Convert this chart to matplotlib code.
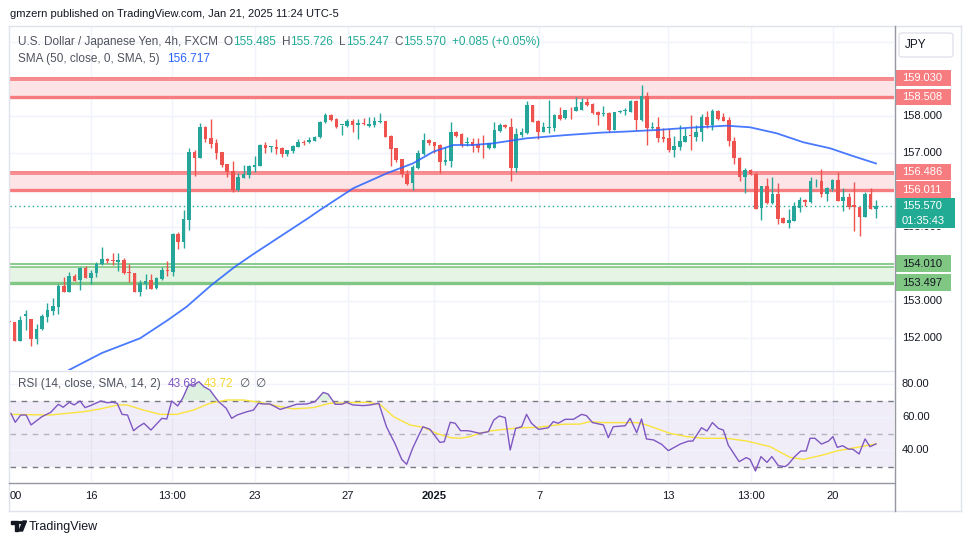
import matplotlib
matplotlib.use("Agg")
import matplotlib.pyplot as plt
from matplotlib.patches import Rectangle, Polygon, Circle, FancyBboxPatch
from matplotlib.lines import Line2D
from matplotlib.transforms import Bbox, blended_transform_factory
import numpy as np

plt.rcParams['font.family'] = ['Liberation Sans', 'DejaVu Sans']

# USDJPY 4h candles
opens = [152.47, 152.44, 151.92, 152.60, 152.51, 151.97, 152.24, 152.56, 152.74, 152.85,
         153.41, 153.25, 153.68, 153.57, 153.90, 153.63, 153.77, 153.99, 154.14, 154.09,
         154.06, 154.11, 153.78, 153.75, 153.23, 153.46, 153.57, 153.34, 153.60, 153.84,
         153.79, 154.81, 154.60, 155.19, 157.02, 156.87, 157.71, 157.40, 157.26, 157.02,
         156.70, 156.51, 156.00, 156.33, 156.40, 156.63, 156.66, 157.22, 157.16, 157.16,
         157.14, 156.97, 157.06, 157.17, 157.31, 157.29, 157.33, 157.42, 157.83, 158.03,
         157.92, 157.75, 157.74, 157.86, 157.76, 157.82, 157.74, 157.76, 157.85, 157.86,
         157.46, 157.13, 156.84, 156.44, 156.18, 156.59, 156.97, 157.35, 157.29, 157.22,
         156.75, 156.78, 157.56, 157.51, 157.28, 157.29, 157.23, 157.17, 157.14, 157.14,
         157.60, 157.77, 157.71, 156.59, 157.49, 157.53, 158.30, 157.87, 157.58, 157.67,
         157.67, 158.03, 157.94, 158.17, 158.14, 158.16, 158.37, 158.32, 158.12, 158.06,
         158.09, 157.62, 158.10, 158.13, 158.12, 158.41, 157.89, 158.54, 157.68, 157.71,
         157.44, 157.40, 157.08, 157.17, 157.31, 157.47, 157.42, 157.56, 157.96, 157.76,
         158.14, 157.96, 157.89, 157.32, 156.87, 156.36, 156.54, 156.42, 155.52, 156.11,
         155.64, 155.89, 155.25, 155.10, 155.16, 155.52, 155.73, 155.67, 156.23, 156.24,
         155.89, 156.03, 156.27, 155.69, 155.80, 155.60, 155.53, 155.28, 155.89, 155.485]
highs = [152.50, 152.44, 152.60, 152.76, 152.51, 152.37, 152.64, 152.94, 153.07, 153.46,
         153.66, 153.78, 153.74, 153.93, 153.95, 153.84, 154.06, 154.45, 154.17, 154.31,
         154.29, 154.17, 154.00, 153.76, 153.57, 153.73, 153.73, 153.66, 153.93, 154.08,
         154.85, 154.87, 155.46, 157.13, 157.08, 157.80, 157.72, 157.92, 157.38, 157.03,
         156.71, 156.78, 156.45, 156.68, 156.68, 156.93, 157.24, 157.29, 157.19, 157.37,
         157.17, 157.09, 157.22, 157.38, 157.35, 157.42, 157.46, 157.86, 158.07, 158.06,
         157.95, 157.77, 157.92, 157.91, 157.92, 157.94, 157.96, 157.96, 158.07, 157.87,
         157.49, 157.14, 156.85, 156.54, 156.68, 157.08, 157.55, 157.38, 157.30, 157.23,
         157.17, 157.83, 157.59, 157.53, 157.42, 157.41, 157.40, 157.49, 157.28, 157.85,
         157.80, 157.78, 157.95, 157.67, 157.67, 158.41, 158.31, 157.88, 157.85, 158.43,
         158.05, 158.23, 158.17, 158.25, 158.52, 158.48, 158.48, 158.34, 158.13, 158.28,
         158.10, 158.12, 158.16, 158.21, 158.43, 158.42, 158.84, 158.66, 157.85, 157.98,
         157.67, 157.65, 157.47, 157.77, 157.67, 158.03, 157.76, 158.05, 158.14, 158.19,
         158.16, 158.07, 157.98, 157.44, 156.88, 156.59, 156.57, 156.50, 156.11, 156.33,
         156.34, 156.18, 155.26, 155.49, 155.68, 155.82, 155.77, 156.36, 156.30, 156.57,
         156.09, 156.29, 156.48, 156.05, 155.91, 156.21, 155.54, 155.94, 156.05, 155.726]
lows = [152.40, 151.92, 151.92, 152.22, 151.79, 151.84, 152.22, 152.44, 152.62, 152.65,
        153.24, 153.24, 153.54, 153.31, 153.61, 153.46, 153.66, 153.97, 154.02, 153.97,
        153.81, 153.72, 153.52, 153.23, 153.14, 153.32, 153.32, 153.32, 153.57, 153.68,
        153.68, 154.41, 154.42, 154.92, 156.39, 156.86, 157.31, 157.14, 156.84, 156.63,
        156.36, 155.95, 155.97, 156.32, 156.33, 156.48, 156.65, 156.99, 157.04, 156.97,
        156.90, 156.93, 157.01, 157.16, 157.22, 157.26, 157.32, 157.41, 157.80, 157.87,
        157.67, 157.49, 157.71, 157.58, 157.37, 157.76, 157.69, 157.69, 157.82, 157.44,
        156.65, 156.75, 156.36, 156.14, 156.00, 156.58, 156.95, 157.22, 156.99, 156.45,
        156.68, 156.63, 157.44, 157.17, 157.20, 157.04, 157.04, 156.87, 157.11, 157.13,
        157.58, 157.68, 156.23, 156.48, 157.44, 157.52, 157.83, 157.38, 157.57, 157.53,
        157.60, 157.89, 157.93, 157.91, 158.13, 158.15, 158.28, 158.06, 157.77, 158.01,
        157.58, 157.61, 158.07, 158.03, 158.11, 157.62, 157.86, 157.22, 157.65, 157.29,
        157.29, 157.04, 156.90, 157.08, 157.30, 157.08, 157.33, 157.33, 157.67, 157.62,
        157.89, 157.86, 157.20, 156.70, 156.25, 155.93, 156.41, 155.49, 155.19, 155.63,
        155.61, 155.07, 155.10, 154.98, 155.15, 155.41, 155.57, 155.66, 156.09, 155.82,
        155.70, 155.97, 155.69, 155.42, 155.49, 154.89, 154.77, 155.27, 155.48, 155.247]
closes = [152.42, 151.92, 152.49, 152.65, 151.97, 152.24, 152.59, 152.76, 152.87, 153.41,
          153.25, 153.68, 153.55, 153.90, 153.63, 153.77, 153.99, 154.14, 154.07, 154.07,
          154.11, 153.75, 153.76, 153.23, 153.48, 153.55, 153.32, 153.63, 153.84, 153.82,
          154.81, 154.60, 155.22, 157.02, 156.87, 157.70, 157.38, 157.24, 156.99, 156.68,
          156.48, 156.00, 156.34, 156.42, 156.65, 156.68, 157.22, 157.14, 157.17, 157.11,
          156.97, 157.08, 157.19, 157.31, 157.26, 157.35, 157.44, 157.85, 158.03, 157.89,
          157.71, 157.76, 157.86, 157.77, 157.80, 157.78, 157.78, 157.87, 157.86, 157.44,
          157.11, 156.81, 156.42, 156.16, 156.63, 156.99, 157.35, 157.26, 157.20, 156.77,
          156.81, 157.56, 157.47, 157.22, 157.29, 157.20, 157.14, 157.15, 157.26, 157.62,
          157.77, 157.71, 156.59, 157.51, 157.58, 158.30, 157.83, 157.58, 157.69, 157.69,
          158.03, 157.91, 158.16, 158.15, 158.23, 158.37, 158.30, 158.07, 158.03, 158.08,
          157.62, 158.12, 158.12, 158.16, 158.41, 157.89, 158.54, 157.67, 157.71, 157.41,
          157.38, 157.08, 157.19, 157.32, 157.47, 157.45, 157.58, 157.96, 157.76, 158.14,
          157.92, 157.87, 157.32, 156.86, 156.36, 156.54, 156.42, 155.50, 156.11, 155.64,
          155.89, 155.22, 155.10, 155.19, 155.58, 155.73, 155.67, 156.24, 156.24, 155.89,
          156.05, 156.27, 155.69, 155.82, 155.55, 155.53, 155.28, 155.89, 155.48, 155.570]

# SMA(50) smoothed line: vertices (candle index, price)
sma_idx = [10.96, 17.0, 24.0, 29.1, 32.55, 37.1, 41.4, 45.0, 54.8, 57.0, 63.1, 69.25, 74.1,
           77.8, 81.5, 85.1, 88.8, 94.9, 102.3, 108.4, 112.65, 118.8, 124.9, 131.6, 135.9,
           140.8, 145.7, 150.6, 154.2, 159.0]
sma_val = [151.135, 151.595, 151.992, 152.486, 152.846, 153.432, 153.927, 154.289, 155.235,
           155.459, 156.046, 156.451, 156.722, 157.035, 157.216, 157.216, 157.262, 157.397,
           157.486, 157.549, 157.576, 157.622, 157.684, 157.738, 157.695, 157.532, 157.289,
           157.127, 156.946, 156.717]

# RSI(14) line vertices
rsi_idx = [0.3, 1.1, 2.1, 3.1, 4.0, 6.0, 7.6, 9.0, 9.9, 11.0, 11.9, 13.0, 13.9, 14.9, 16.8,
           17.9, 19.0, 19.8, 20.7, 21.7, 22.8, 23.7, 24.7, 26.0, 28.0, 28.9, 29.8, 30.9, 31.8,
           32.9, 33.8, 34.8, 35.7, 36.8, 38.4, 39.8, 40.8, 41.8, 43.6, 44.8, 45.7, 46.6, 47.8,
           49.7, 51.4, 52.7, 54.6, 56.1, 57.6, 58.5, 59.8, 61.0, 61.9, 63.0, 65.0, 66.2, 67.8,
           69.2, 70.8, 72.0, 72.9, 74.0, 75.0, 75.9, 77.2, 79.0, 79.8, 80.9, 81.8, 82.8, 83.9,
           84.5, 86.3, 87.9, 88.9, 89.9, 91.0, 91.9, 92.9, 94.0, 94.9, 95.8, 97.1, 98.9, 99.8,
           100.7, 102.0, 103.5, 105.0, 105.9, 107.0, 109.0, 109.9, 110.8, 113.0, 113.9, 115.1,
           116.0, 116.9, 118.2, 119.7, 120.9, 123.1, 124.6, 125.4, 127.0, 128.0, 129.0, 130.1,
           131.0, 131.9, 132.8, 133.9, 135.2, 135.9, 136.9, 137.9, 139.0, 139.9, 141.1, 142.3,
           142.9, 144.1, 145.2, 146.2, 146.9, 147.8, 149.0, 150.3, 151.1, 151.9, 152.9, 153.9,
           154.8, 155.9, 157.0, 157.9, 159.0]
rsi_val = [62.2, 56.8, 61.2, 61.2, 55.2, 60.2, 62.8, 67.7, 65.9, 68.9, 67.3, 69.7, 65.7, 66.9,
           69.7, 68.7, 68.9, 68.3, 61.6, 61.2, 51.7, 54.1, 56.2, 52.1, 59.2, 58.8, 69.7, 66.7,
           71.3, 79.4, 79.4, 81.4, 78.4, 76.4, 69.3, 65.3, 59.2, 61.2, 63.2, 64.2, 68.3, 67.9,
           67.9, 64.6, 66.3, 67.7, 67.9, 69.3, 74.9, 73.9, 67.7, 67.7, 68.9, 67.3, 66.9, 67.3,
           68.3, 54.1, 43.6, 34.3, 31.3, 41.0, 48.1, 54.1, 52.5, 44.6, 45.0, 56.8, 56.2, 51.7,
           51.7, 51.5, 50.1, 51.1, 58.2, 60.6, 59.6, 40.0, 53.1, 54.1, 61.6, 56.2, 52.5, 53.5,
           57.2, 56.2, 58.6, 58.6, 61.6, 60.8, 56.6, 55.2, 47.5, 54.1, 54.7, 59.2, 50.5, 58.8,
           46.7, 46.1, 43.4, 39.6, 43.6, 45.4, 45.4, 53.5, 51.5, 56.6, 53.1, 52.1, 43.0, 38.4,
           32.9, 35.4, 34.3, 27.3, 36.0, 32.5, 36.0, 30.5, 29.9, 31.3, 36.0, 39.4, 39.4, 47.1,
           47.1, 43.6, 45.4, 48.1, 41.6, 42.6, 40.6, 40.4, 37.6, 46.7, 42.0, 43.68]

# RSI moving average (SMA 14) vertices
rma_idx = [0.3, 7.5, 13.6, 16.7, 20.0, 21.6, 24.6, 27.7, 30.7, 33.8, 36.8, 39.9, 42.9, 46.0,
           49.1, 52.1, 55.8, 58.8, 62.5, 65.6, 68.0, 70.5, 73.5, 76.0, 78.4, 80.9, 82.7, 84.5,
           86.2, 88.2, 90.6, 94.0, 96.8, 101.6, 104.7, 106.5, 109.0, 115.1, 116.9, 121.2,
           124.3, 127.3, 131.6, 135.3, 139.6, 143.2, 145.7, 149.3, 151.8, 155.5, 159.0]
rma_val = [61.6, 61.2, 63.2, 64.9, 67.3, 67.3, 64.2, 61.6, 61.6, 64.2, 68.3, 70.3, 70.3, 68.9,
           66.7, 64.9, 65.7, 68.3, 68.7, 68.9, 67.7, 60.2, 55.2, 53.7, 50.1, 47.5, 47.1, 48.1,
           50.1, 51.5, 52.5, 53.5, 53.7, 55.6, 55.7, 57.2, 56.6, 56.6, 55.2, 50.1, 48.1, 47.1,
           47.1, 45.4, 42.0, 35.6, 34.3, 37.0, 39.4, 41.6, 43.72]

# support / resistance zones
red_zones = [(158.508, 159.030), (156.011, 156.486)]
green_zones = [(153.497, 154.010)]

price_ticks = [152, 153, 154, 155, 156, 157, 158]
rsi_ticks = [40, 60, 80]
time_ticks = [15.05, 29.9, 45.0, 62.1, 78.0, 97.2, 120.9, 136.0, 151.1]
time_labels = ['16', '13:00', '23', '27', '2025', '7', '13', '13:00', '20']

UP, DN = '#26A69A', '#EF5350'
RED_LN, RED_FILL = '#F77C80', '#FDE4E6'
GRN_LN, GRN_FILL = '#81C784', '#E6F4E5'
GRID = '#F0F3FA'
TXT = '#131722'
GREY = '#50535E'

W, H = 970, 545
fig = plt.figure(figsize=(W / 100, H / 100), dpi=100)


def fx(px):
    return px / W


def fy(py):
    return 1 - py / H


L, R = 10, 894
TOP, MID, RTOP, BOT = 26, 370, 371, 482
step, x_first = 5.451, 9.25

ax = fig.add_axes([fx(L), fy(MID), (R - L) / W, (MID - TOP) / H])
rx = fig.add_axes([fx(L), fy(BOT), (R - L) / W, (BOT - RTOP) / H])
xl = ((L - x_first) / step, (R - x_first) / step)
for a in (ax, rx):
    a.set_xlim(*xl)
    a.set_xticks([])
    a.set_yticks([])
    for s in a.spines.values():
        s.set_visible(False)
    for t in time_ticks:
        a.axvline(t, color=GRID, lw=1, zorder=0)

ax.set_ylim(158 - (MID - 116) / 37, 158 + (116 - TOP) / 37)
rx.set_ylim(80 - (BOT - 384) / 1.65, 80 + (384 - RTOP) / 1.65)

for p in price_ticks + [159, 160]:
    ax.axhline(p, color=GRID, lw=1, zorder=0)

# zones
for lo, hi in red_zones:
    ax.axhspan(lo, hi - 0.06, color=RED_FILL, zorder=0.5, lw=0)
    ax.axhline(hi, color=RED_LN, lw=1.3, zorder=1)
    ax.axhline(hi - 0.055, color=RED_LN, lw=1.2, zorder=1)
    ax.axhline(lo, color=RED_LN, lw=2.4, zorder=1)
for lo, hi in green_zones:
    ax.axhspan(lo, hi - 0.08, color=GRN_FILL, zorder=0.5, lw=0)
    ax.axhline(hi, color=GRN_LN, lw=1.3, zorder=1)
    ax.axhline(hi - 0.08, color=GRN_LN, lw=1.2, zorder=1)
    ax.axhline(lo, color=GRN_LN, lw=2.4, zorder=1)

# candles
o, h, l, c = map(np.array, (opens, highs, lows, closes))
idx = np.arange(len(o))
col = np.where(c >= o, UP, DN)
ax.vlines(idx, l, h, colors=col, lw=1, zorder=3)
ax.bar(idx, np.maximum(np.abs(c - o), 0.025), bottom=np.minimum(o, c), width=0.66,
       color=col, lw=0, zorder=4)

ax.plot(sma_idx, sma_val, color='#2962FF', lw=1.3, zorder=5, alpha=0.85)
ax.axhline(closes[-1], color='#22AB94', lw=1, ls=(0, (1, 2.2)), zorder=2)

# RSI pane
rx.axhspan(30, 70, color='#7E57C2', alpha=0.1, lw=0, zorder=0.5)
for v in rsi_ticks:
    rx.axhline(v, color=GRID, lw=1, zorder=0.6)
rx.axhline(70, color='#787B86', lw=1, ls=(0, (4, 4)), zorder=1)
rx.axhline(30, color='#787B86', lw=1, ls=(0, (4, 4)), zorder=1)
rx.axhline(50, color='#787B86', lw=1, ls=(0, (4, 4)), alpha=0.5, zorder=1)
ri = np.array(rsi_idx)
rv = np.array(rsi_val)
rx.fill_between(ri, rv, 70, where=rv > 70, interpolate=True, color='#4CAF50', alpha=0.18, lw=0)
rx.fill_between(ri, rv, 30, where=rv < 30, interpolate=True, color='#F23645', alpha=0.18, lw=0)
rx.plot(rma_idx, rma_val, color='#F9E33C', lw=1, zorder=3)
rx.plot(ri, rv, color='#7E57C2', lw=1, zorder=4)

# right price scale
ty = blended_transform_factory(ax.transAxes, ax.transData)
ry = blended_transform_factory(rx.transAxes, rx.transData)
lx = (902 - L) / (R - L)
bx = (895 - L) / (R - L)
for p in price_ticks:
    t = ax.text(lx, p, f"{p:.3f}", transform=ty, fontsize=8, color=TXT, va='center',
                ha='left', clip_on=False)
    if p == 155:
        # partly hidden under the last-price tag
        t.set_clip_box(Bbox([[0, 0], [W, H - 228.5]]))
        t.set_clip_on(True)
for v in rsi_ticks:
    rx.text(lx, v, f"{v:.2f}", transform=ry, fontsize=8, color=TXT, va='center',
            ha='left', clip_on=False)


def tag(p, fc, tc, w=56):
    hh = 16.5 / 37
    ax.add_patch(Rectangle((bx, p - hh / 2), w / (R - L), hh, transform=ty, facecolor=fc,
                           edgecolor='none', clip_on=False, zorder=8))
    ax.text(lx, p, f"{p:.3f}", transform=ty, fontsize=8, color=tc, va='center', ha='left',
            clip_on=False, zorder=9)


for lo, hi in red_zones:
    tag(hi, RED_LN, 'white')
    tag(lo, RED_LN, 'white')
for lo, hi in green_zones:
    tag(hi, GRN_LN, TXT)
    tag(lo, GRN_LN, TXT)

# last price tag
ax.add_patch(Rectangle((bx, 154.965), 60 / (R - L), 0.827, transform=ty, facecolor='#22AB94',
                       edgecolor='none', clip_on=False, zorder=8))
ax.text(lx, closes[-1], f"{closes[-1]:.3f}", transform=ty, fontsize=8, color='white',
        va='center', ha='left', clip_on=False, zorder=9)
ax.text(lx, closes[-1] - 0.4, "01:35:43", transform=ty, fontsize=8, color='white',
        va='center', ha='left', clip_on=False, zorder=9)


# frame lines
def hline(y, x0, x1, color, lw=1):
    fig.add_artist(Line2D([fx(x0), fx(x1)], [fy(y), fy(y)], color=color, lw=lw))


def vline(x, y0, y1, color, lw=1):
    fig.add_artist(Line2D([fx(x), fx(x)], [fy(y0), fy(y1)], color=color, lw=lw))


hline(TOP, 9, 961, '#E0E3EB')
hline(511, 9, 961, '#E0E3EB')
vline(9.5, TOP, 511, '#E0E3EB')
vline(961, TOP, 511, '#E0E3EB')
hline(370.5, 9, 894, '#E0E3EB')
hline(482.5, 9, 894, '#9598A1')
vline(894.5, TOP, 511, '#9598A1')

fig.add_artist(FancyBboxPatch((fx(899), fy(57)), fx(54), 24 / H,
                              boxstyle='round,pad=0,rounding_size=0.004',
                              facecolor='white', edgecolor='#E0E3EB', lw=1))
fig.text(fx(916), fy(45), 'JPY', fontsize=8.5, color=TXT, va='center', ha='center')

# time axis
for t, s in zip(time_ticks, time_labels):
    xp = x_first + t * step
    fig.text(fx(xp), fy(496), s, fontsize=8, color=TXT, va='center', ha='center',
             fontweight='bold' if s == '2025' else 'normal')
fig.text(fx(10), fy(496), '00', fontsize=8, color=TXT, va='center', ha='left')

# texts
fig.text(fx(10), fy(14), 'gmzern published on TradingView.com, Jan 21, 2025 11:24 UTC-5',
         fontsize=8, color=TXT, va='center', ha='left')

renderer = fig.canvas.get_renderer()


def runs(x, y, parts, size=8.5):
    for s, color, gap in parts:
        t = fig.text(fx(x), fy(y), s, fontsize=size, color=color, va='center', ha='left')
        x += t.get_window_extent(renderer=renderer).width + gap


G = '#22AB94'
runs(18, 42, [('U.S. Dollar / Japanese Yen, 4h, FXCM', GREY, 6), ('O', GREY, 0),
              ('155.485', G, 6), ('H', GREY, 0), ('155.726', G, 6), ('L', GREY, 0),
              ('155.247', G, 6), ('C', GREY, 0), ('155.570', G, 6),
              ('+0.085 (+0.05%)', G, 0)])
runs(18, 59, [('SMA (50, close, 0, SMA, 5)', GREY, 7), ('156.717', '#2962FF', 0)])
runs(18, 384, [('RSI (14, close, SMA, 14, 2)', GREY, 7), ('43.68', '#7E57C2', 6),
               ('43.72', '#F5D631', 6), ('\u2205', GREY, 6), ('\u2205', GREY, 0)])

# logo
fig.add_artist(Polygon([(fx(11), fy(521)), (fx(18), fy(521)), (fx(18), fy(531)),
                        (fx(15), fy(531)), (fx(15), fy(524)), (fx(11), fy(524))],
                       closed=True, color='#131722'))
fig.add_artist(Circle((fx(20.5), fy(522.5)), 1.6 / W, color='#131722'))
fig.add_artist(Polygon([(fx(23), fy(521)), (fx(26.5), fy(521)), (fx(22.5), fy(531)),
                        (fx(19), fy(531))], closed=True, color='#131722'))
fig.text(fx(29), fy(527), 'TradingView', fontsize=9, color=TXT, va='center', ha='left')

fig.savefig('out.png', dpi=100)
